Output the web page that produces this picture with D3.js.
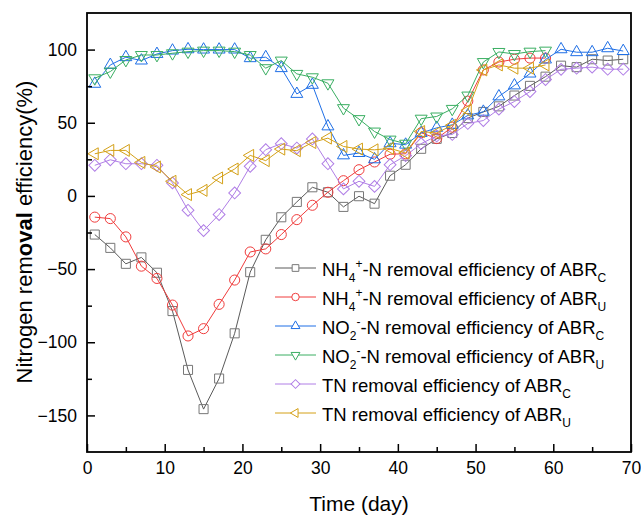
<!DOCTYPE html>
<html>
<head>
<meta charset="utf-8">
<script src="https://cdn.jsdelivr.net/npm/d3@7"></script>
<style>
  body { margin: 0; background: #fff; }
  svg { display: block; font-family: "Liberation Sans", Arial, sans-serif; }
</style>
</head>
<body>
<div id="chart"></div>
<script>
// data (day, removal efficiency %)
var days = [1,3,5,7,9,11,13,15,17,19,21,23,25,27,29,31,33,35,37,39,41,43,45,47,49,51,53,55,57,59,61,63,65,67,69];

var nh4C = [-26.4,-35.5,-46.4,-42,-52.5,-78.7,-118.9,-145.7,-124.8,-93.9,-52.1,-30,-14.6,-4.1,5.9,2.5,-7.5,-0.2,-5.3,13.8,21.3,32.2,39,43,53.2,57.4,61.2,68.6,75.2,81.5,89,88,93.4,92.5,93.4];
var nh4U = [-14.5,-15.5,-28,-48,-56.4,-74.6,-95.7,-90.7,-74.1,-57.5,-38.3,-36.2,-26.4,-16.2,-6.4,2.5,10.4,17.9,23.2,28.5,28.8,43.2,39.2,47,64.8,86.1,91.5,93.4,94.2,94.2];
var no2C = [76.6,89.5,94.8,92.5,97,99.3,100.2,100,100,100,94.1,94.8,87.3,69.7,75.9,47.5,27.7,29.3,25,36,35,43,46.5,48.6,55,57.5,68,75.5,83.6,93.2,100.2,98.2,98.2,100.9,99];
var no2U = [80.4,85,92.9,96.3,96.3,97.5,98.6,99.3,99.3,98.6,96.3,87.3,92.5,83.4,81.1,77,60,52.5,44,38.5,35.7,52.8,54.3,59.5,68.6,91.5,98.4,97,98.6,99.3];
var tnC = [20.9,24.7,22,22,20.9,8.9,-9.8,-23.7,-12.7,2,20.2,31.6,35.7,32.7,38.9,22,4.8,10,6.5,21.3,27.5,35.7,41,42,49.5,51.5,59.3,64.5,71.3,79.5,86.5,87.3,88,86.6,86.6];
var tnU = [28.8,31.1,31.1,22.9,19.8,10,0.9,3.8,12.3,18.4,27.7,24.1,32,30.9,36.5,39.5,33.8,32,31.5,32.5,29.3,44,43,48.3,58.5,86.1,89.5,87.3,87.3,89.5];

var xTicks = [0,10,20,30,40,50,60,70];
var xMinor = [5,15,25,35,45,55,65];
var yTicks = [-150,-100,-50,0,50,100];
var yMinor = [-125,-75,-25,25,75];

// legend labels: [text, kind] kind = n | sub | sup
var labels = [
  [["NH","n"],["4","sub"],["+","sup"],["-N removal efficiency of ABR","n"],["C","sub"]],
  [["NH","n"],["4","sub"],["+","sup"],["-N removal efficiency of ABR","n"],["U","sub"]],
  [["NO","n"],["2","sub"],["-","sup"],["-N removal efficiency of ABR","n"],["C","sub"]],
  [["NO","n"],["2","sub"],["-","sup"],["-N removal efficiency of ABR","n"],["U","sub"]],
  [["TN removal efficiency of ABR","n"],["C","sub"]],
  [["TN removal efficiency of ABR","n"],["U","sub"]]
];

var series = [
  {values: nh4C, color: "#5a5a5a", mark: "#777777", shape: "square"},
  {values: nh4U, color: "#f03c3c", mark: "#f03c3c", shape: "circle"},
  {values: no2C, color: "#1f6fe6", mark: "#1f6fe6", shape: "up"},
  {values: no2U, color: "#3aae62", mark: "#3aae62", shape: "down"},
  {values: tnC,  color: "#b07ee6", mark: "#b07ee6", shape: "diamond"},
  {values: tnU,  color: "#d4a017", mark: "#d4a017", shape: "left"}
];

var W = 641, H = 515;
var margin = {top: 13, right: 10, bottom: 63, left: 87};
var w = W - margin.left - margin.right,
    h = H - margin.top - margin.bottom;

var svg = d3.select("#chart").append("svg")
    .attr("width", W)
    .attr("height", H);

var g = svg.append("g")
    .attr("transform", "translate(" + margin.left + "," + margin.top + ")");

var x = d3.scaleLinear().domain([0, 70]).range([0, w]);
var y = d3.scaleLinear().domain([-175, 125]).range([h, 0]);

// symbol path for a shape, scale k
function symbolPath(shape, k) {
  var sym = d3.symbol();
  if (shape == "square") return sym.type(d3.symbolSquare).size(82 * k)();
  if (shape == "circle") return sym.type(d3.symbolCircle).size(80 * k)();
  if (shape == "diamond") return sym.type(d3.symbolSquare).size(70 * k)();
  return sym.type(d3.symbolTriangle).size(62 * k)();
}
function symbolRot(shape) {
  if (shape == "down") return 180;
  if (shape == "left") return -90;
  if (shape == "diamond") return 45;
  return 0;
}

var line = d3.line()
    .x(function(d) { return x(d[0]); })
    .y(function(d) { return y(d[1]); });

// series
series.forEach(function(s) {
  var pts = s.values.map(function(v, i) { return [days[i], v]; });
  g.append("path")
      .datum(pts)
      .attr("d", line)
      .attr("fill", "none")
      .attr("stroke", s.color)
      .attr("stroke-width", 1);
  g.selectAll(null)
      .data(pts)
    .enter().append("path")
      .attr("d", symbolPath(s.shape, 1))
      .attr("transform", function(d) {
        return "translate(" + x(d[0]) + "," + y(d[1]) + ") rotate(" + symbolRot(s.shape) + ")";
      })
      .attr("fill", "none")
      .attr("stroke", s.mark)
      .attr("stroke-width", 1);
});

// axes, ticks pointing inward
g.append("g")
    .attr("transform", "translate(0," + h + ")")
    .call(d3.axisBottom(x).tickValues(xTicks).tickSize(-8).tickPadding(10).tickFormat(d3.format("d")));
g.append("g")
    .attr("transform", "translate(0," + h + ")")
    .call(d3.axisBottom(x).tickValues(xMinor).tickSize(-5).tickFormat(""));
g.append("g")
    .call(d3.axisLeft(y).tickValues(yTicks).tickSize(-8).tickPadding(10).tickFormat(d3.format("d")));
g.append("g")
    .call(d3.axisLeft(y).tickValues(yMinor).tickSize(-5).tickFormat(""));

g.selectAll(".domain").remove();
g.selectAll(".tick line").attr("stroke", "#000").attr("stroke-width", 1.5);
g.selectAll(".tick text")
    .attr("fill", "#000")
    .style("font-size", "17.5px")
    .style("font-family", "'Liberation Sans', Arial, sans-serif");

// frame
g.append("rect")
    .attr("x", 0).attr("y", 0)
    .attr("width", w).attr("height", h)
    .attr("fill", "none")
    .attr("stroke", "#000")
    .attr("stroke-width", 1.8);

// axis titles
svg.append("text")
    .attr("x", margin.left + x(35))
    .attr("y", 511)
    .attr("text-anchor", "middle")
    .style("font-size", "21px")
    .text("Time (day)");

var yt = svg.append("text")
    .attr("transform", "translate(32," + 232 + ") rotate(-90)")
    .attr("text-anchor", "middle")
    .style("font-size", "22px");
yt.append("tspan").text("Nitrogen rem");
yt.append("tspan").style("font-weight", "bold").text("oval");
yt.append("tspan").text(" efficiency(%)");

// legend
var leg = svg.append("g").attr("transform", "translate(275,268)");
series.forEach(function(s, i) {
  var row = leg.append("g").attr("transform", "translate(0," + (i * 29) + ")");
  row.append("line")
      .attr("x1", 0).attr("x2", 41)
      .attr("stroke", s.color)
      .attr("stroke-width", 1);
  row.append("path")
      .attr("d", symbolPath(s.shape, 0.55))
      .attr("transform", "translate(20.5,0) rotate(" + symbolRot(s.shape) + ")")
      .attr("fill", "#fff")
      .attr("stroke", s.mark)
      .attr("stroke-width", 1);
  var t = row.append("text")
      .attr("x", 47)
      .attr("y", 8)
      .style("font-size", "18.5px");
  // sub/sup shifts are relative, so track where the baseline currently is
  var shift = 0;
  labels[i].forEach(function(p) {
    var ts = t.append("tspan").text(p[0]);
    var target = p[1] == "sub" ? 6 : (p[1] == "sup" ? -8 : 0);
    if (p[1] != "n") ts.style("font-size", "12px");
    ts.attr("dy", target - shift);
    shift = target;
  });
});
</script>
</body>
</html>
